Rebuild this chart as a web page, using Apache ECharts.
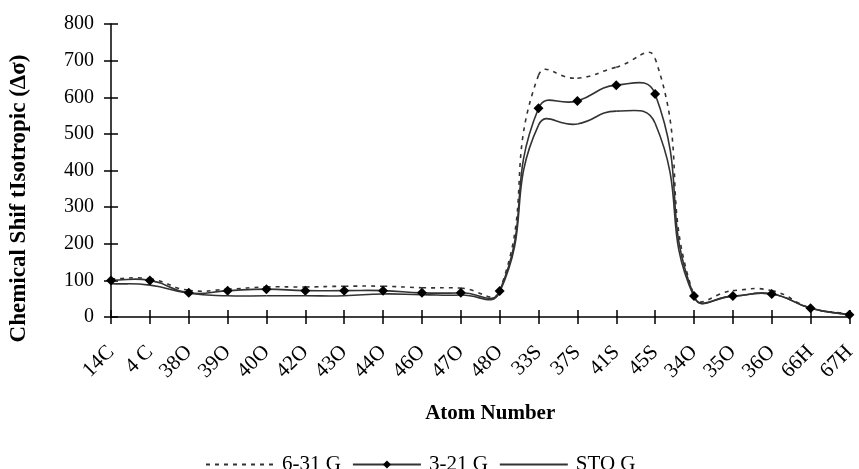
<!DOCTYPE html>
<html>
<head>
<meta charset="utf-8">
<script src="https://cdn.jsdelivr.net/npm/echarts@6/dist/echarts.min.js"></script>
<style>
  html, body { margin: 0; padding: 0; background: #fff; }
  #chart { width: 859px; height: 469px; }
</style>
</head>
<body>
<div id="chart"></div>
<script>
// atom labels along the x axis
var atoms = ["14C", "4 C", "38O", "39O", "40O", "42O", "43O", "44O", "46O", "47O",
  "48O", "33S", "37S", "41S", "45S", "34O", "35O", "36O", "66H", "67H"];

// chemical shift isotropic values
var g631 = [104, 104, 73, 76, 82, 82, 84, 84, 80, 79, 72, 660, 652, 682, 706, 58, 72, 72, 25, 8];
var g321 = [100, 100, 66, 72, 76, 72, 72, 72, 66, 66, 71, 570, 590, 633, 609, 57, 57, 63, 24, 6];
var stoG = [91, 87, 65, 58, 58, 58, 58, 63, 61, 60, 68, 524, 527, 562, 529, 55, 57, 63, 24, 6];

var yTicks = [0, 100, 200, 300, 400, 500, 600, 700, 800];

var font = "'Liberation Serif', 'Times New Roman', serif";
var lineCol = "#333";

// smoothed curve like the spreadsheet one: bezier through every point,
// control points from the neighbours, weighted by segment length (no clamping)
function curve(vals, dash) {
  return {
    type: "custom",
    name: "curve",
    silent: true,
    data: vals.map(function (v, i) { return [i, v]; }),
    encode: { x: 0, y: 1 },
    renderItem: function (params, api) {
      var i = params.dataIndexInside;
      var n = params.dataInsideLength;
      if (i >= n - 1) return;
      var pt = function (k) {
        k = Math.max(0, Math.min(n - 1, k));
        return api.coord([api.value(0, k), api.value(1, k)]);
      };
      var dist = function (a, b) { return Math.sqrt((a[0] - b[0]) * (a[0] - b[0]) + (a[1] - b[1]) * (a[1] - b[1])); };
      var p0 = pt(i - 1), p1 = pt(i), p2 = pt(i + 1), p3 = pt(i + 2);
      var d01 = dist(p0, p1), d12 = dist(p1, p2), d23 = dist(p2, p3);
      var s = 0.5;
      var f1 = s * d12 / (d01 + d12 || 1);
      var f2 = s * d12 / (d12 + d23 || 1);
      return {
        type: "bezierCurve",
        shape: {
          x1: p1[0], y1: p1[1], x2: p2[0], y2: p2[1],
          cpx1: p1[0] + (p2[0] - p0[0]) * f1, cpy1: p1[1] + (p2[1] - p0[1]) * f1,
          cpx2: p2[0] - (p3[0] - p1[0]) * f2, cpy2: p2[1] - (p3[1] - p1[1]) * f2
        },
        style: { fill: null, stroke: lineCol, lineWidth: 1.6, lineDash: dash }
      };
    }
  };
}

var chart = echarts.init(document.getElementById("chart"));

var options = {
  animation: false,
  textStyle: { fontFamily: font, color: "#000" },
  grid: { left: 108, top: 24, width: 752, height: 293 },
  legend: {
    left: 200,
    top: 449,
    itemWidth: 68,
    itemHeight: 10,
    itemGap: 11,
    textStyle: { fontFamily: font, fontSize: 21, color: "#000", padding: [0, 0, 0, 3] },
    data: [
      { name: "6-31 G", lineStyle: { opacity: 1 } },
      { name: "3-21 G", lineStyle: { opacity: 1 } },
      { name: "STO G", lineStyle: { opacity: 1 } }
    ]
  },
  xAxis: [
    {
      type: "category",
      data: atoms,
      boundaryGap: false,
      position: "bottom",
      name: "Atom Number",
      nameLocation: "middle",
      nameGap: 86,
      nameTextStyle: { fontFamily: font, fontSize: 21, fontWeight: "bold", color: "#000", padding: [0, 0, 0, 20] },
      axisLine: { lineStyle: { color: "#000", width: 1.5 } },
      axisTick: { length: 7, lineStyle: { color: "#000", width: 1.5 } },
      axisLabel: { interval: 0, rotate: 45, margin: 32, fontFamily: font, fontSize: 21, color: "#000" },
      splitLine: { show: false }
    },
    {
      type: "category",
      data: atoms,
      boundaryGap: false,
      position: "bottom",
      axisLine: { show: false },
      axisTick: { inside: true, length: 7, lineStyle: { color: "#000", width: 1.5 } },
      axisLabel: { show: false },
      splitLine: { show: false }
    }
  ],
  yAxis: [
    {
      type: "value",
      min: 0,
      max: 800,
      interval: 100,
      position: "left",
      name: "Chemical Shif tIsotropic (\u0394\u03c3)",
      nameLocation: "middle",
      nameGap: 80,
      nameTextStyle: { fontFamily: font, fontSize: 23, fontWeight: "bold", color: "#000", padding: [0, 56, 0, 0] },
      axisLine: { show: true, lineStyle: { color: "#000", width: 1.5 } },
      axisTick: { show: true, length: 7, lineStyle: { color: "#000", width: 1.5 } },
      axisLabel: {
        margin: 17, fontFamily: font, fontSize: 20, color: "#000",
        formatter: function (v) { return yTicks.indexOf(v) > -1 ? String(v) : ""; }
      },
      splitLine: { show: false }
    },
    {
      type: "value",
      min: 0,
      max: 800,
      interval: 100,
      position: "left",
      axisLine: { show: false },
      axisTick: { show: true, inside: true, length: 7, lineStyle: { color: "#000", width: 1.5 } },
      axisLabel: { show: false },
      splitLine: { show: false }
    }
  ],
  series: [
    curve(g631, [4, 5]),
    curve(g321, null),
    curve(stoG, null),
    {
      name: "6-31 G",
      type: "line",
      data: g631,
      symbol: "none",
      lineStyle: { color: lineCol, width: 1.6, type: [4, 5], opacity: 0 },
      itemStyle: { color: "transparent" }
    },
    {
      name: "3-21 G",
      type: "line",
      data: g321,
      symbol: "diamond",
      symbolSize: 10,
      lineStyle: { color: lineCol, width: 1.6, opacity: 0 },
      itemStyle: { color: "#000" },
      z: 5
    },
    {
      name: "STO G",
      type: "line",
      data: stoG,
      symbol: "none",
      lineStyle: { color: lineCol, width: 1.6, opacity: 0 },
      itemStyle: { color: "transparent" }
    }
  ]
};

chart.setOption(options);
</script>
</body>
</html>
